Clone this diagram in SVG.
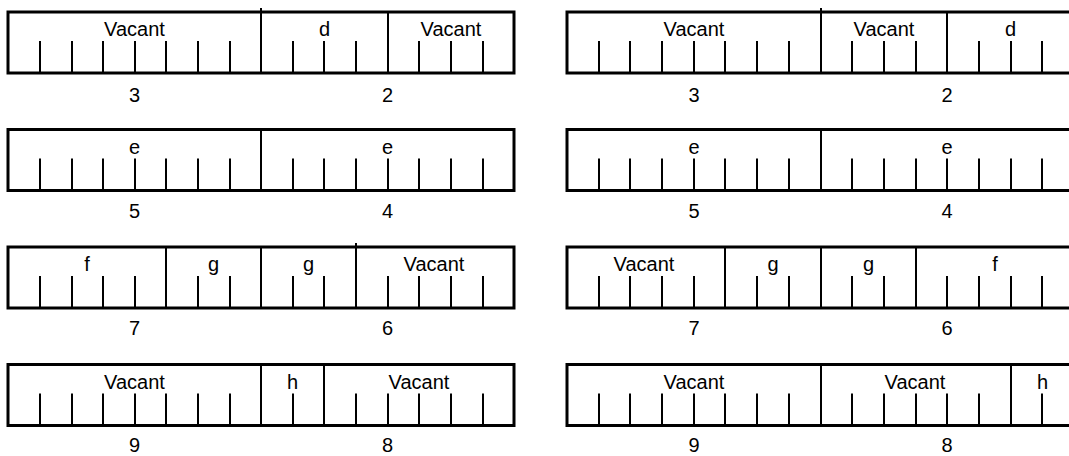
<svg xmlns="http://www.w3.org/2000/svg" width="1069" height="456" viewBox="0 0 1069 456">
<style>
.frame{fill:none;stroke:#000;stroke-width:3}
.tick{fill:none;stroke:#000;stroke-width:2}
.div{fill:none;stroke:#000;stroke-width:2}
text{font-family:"Liberation Sans",Arial,sans-serif;font-size:20px;fill:#000;text-anchor:middle}
</style>
<rect width="1069" height="456" fill="#fff"/>
<defs>
<path id="ticksL" class="tick" d="M40 29V61M72 29V61M103 29V61M135 29V61M166 29V61M198 29V61M230 29V61M261 29V61M293 29V61M324 29V61M356 29V61M388 29V61M419 29V61M451 29V61M483 29V61"/>
<path id="ticksR" class="tick" d="M599 29V61M630 29V61M662 29V61M694 29V61M725 29V61M757 29V61M789 29V61M821 29V61M852 29V61M884 29V61M916 29V61M947 29V61M979 29V61M1011 29V61M1042 29V61"/>
</defs>

<g id="row1-left" transform="translate(0,12)">
<rect class="frame" x="8" y="0" width="506" height="61"/>
<use href="#ticksL"/>
<path class="div" d="M261 -4V61M388 0V61"/>
<text x="134.5" y="24">Vacant</text>
<text x="324.5" y="24">d</text>
<text x="451" y="24">Vacant</text>
<text x="134.5" y="90">3</text>
<text x="387.5" y="90">2</text>
</g>
<g id="row1-right" transform="translate(0,12)">
<rect class="frame" x="567" y="0" width="507" height="61"/>
<use href="#ticksR"/>
<path class="div" d="M821 -4V61M947 0V61"/>
<text x="694" y="24">Vacant</text>
<text x="884" y="24">Vacant</text>
<text x="1010.5" y="24">d</text>
<text x="694" y="90">3</text>
<text x="947" y="90">2</text>
</g>

<g id="row2-left" transform="translate(0,129.5)">
<rect class="frame" x="8" y="0" width="506" height="61"/>
<use href="#ticksL"/>
<path class="div" d="M261 0V61"/>
<text x="134.5" y="24">e</text>
<text x="387.5" y="24">e</text>
<text x="134.5" y="88">5</text>
<text x="387.5" y="88">4</text>
</g>
<g id="row2-right" transform="translate(0,129.5)">
<rect class="frame" x="567" y="0" width="507" height="61"/>
<use href="#ticksR"/>
<path class="div" d="M821 0V61"/>
<text x="694" y="24">e</text>
<text x="947" y="24">e</text>
<text x="694" y="88">5</text>
<text x="947" y="88">4</text>
</g>

<g id="row3-left" transform="translate(0,247)">
<rect class="frame" x="8" y="0" width="506" height="61"/>
<use href="#ticksL"/>
<path class="div" d="M166 0V61M261 0V61M356 -4V61"/>
<text x="87" y="24">f</text>
<text x="213.5" y="24">g</text>
<text x="308.5" y="24">g</text>
<text x="434" y="24">Vacant</text>
<text x="134.5" y="88">7</text>
<text x="387.5" y="88">6</text>
</g>
<g id="row3-right" transform="translate(0,247)">
<rect class="frame" x="567" y="0" width="507" height="61"/>
<use href="#ticksR"/>
<path class="div" d="M725 0V61M821 0V61M916 0V61"/>
<text x="644" y="24">Vacant</text>
<text x="773" y="24">g</text>
<text x="868.5" y="24">g</text>
<text x="995" y="24">f</text>
<text x="694" y="88">7</text>
<text x="947" y="88">6</text>
</g>

<g id="row4-left" transform="translate(0,364.5)">
<rect class="frame" x="8" y="0" width="506" height="61"/>
<use href="#ticksL"/>
<path class="div" d="M261 0V61M324 0V61"/>
<text x="134.5" y="24">Vacant</text>
<text x="292.5" y="24">h</text>
<text x="419" y="24">Vacant</text>
<text x="134.5" y="87">9</text>
<text x="387.5" y="87">8</text>
</g>
<g id="row4-right" transform="translate(0,364.5)">
<rect class="frame" x="567" y="0" width="507" height="61"/>
<use href="#ticksR"/>
<path class="div" d="M821 0V61M1011 0V61"/>
<text x="694" y="24">Vacant</text>
<text x="915" y="24">Vacant</text>
<text x="1042.5" y="24">h</text>
<text x="694" y="87">9</text>
<text x="947" y="87">8</text>
</g>
</svg>
